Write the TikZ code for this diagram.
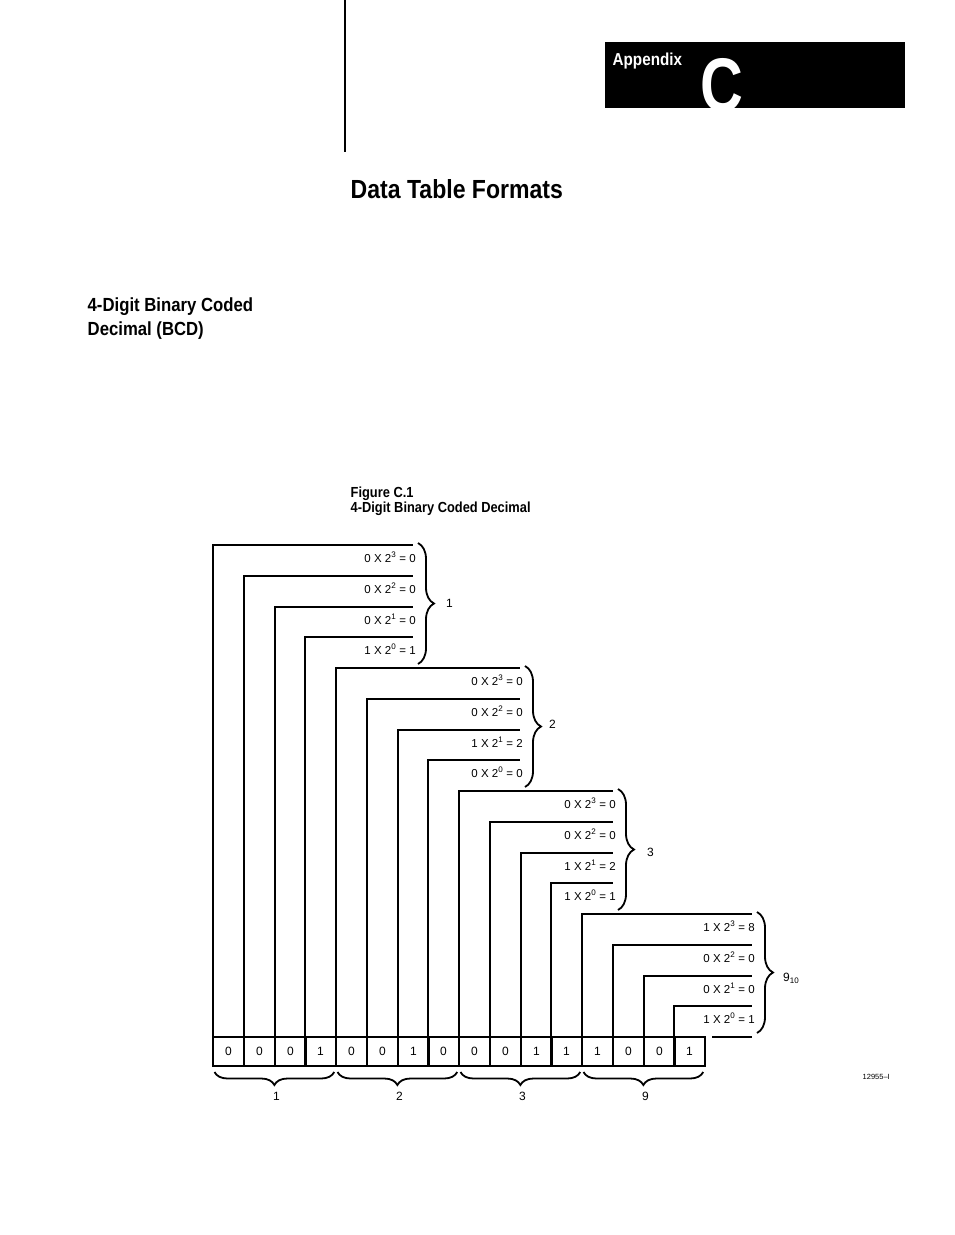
\documentclass[tikz,border=0pt]{standalone}
\usepackage{fontspec}
\setmainfont{Liberation Sans}
\newfontfamily\condfont{Liberation Sans}[FakeStretch=0.88]
\newfontfamily\letterfont{Liberation Sans}[FakeStretch=0.78]
\usetikzlibrary{positioning,calc,decorations.pathreplacing}

\begin{document}
\begin{tikzpicture}[x=1pt, y=-1pt,
  cell/.style={draw, line width=1.9pt, outer sep=0pt, inner sep=0pt,
    minimum width=30.75pt, minimum height=29pt, font=\fontsize{12}{14}\selectfont},
  bitline/.style={line width=1.6pt},
  term/.style={anchor=base east, inner sep=0pt, font=\fontsize{11.5}{13}\selectfont},
  digit/.style={inner sep=0pt, font=\fontsize{12}{14}\selectfont},
  rbrace/.style={decorate, decoration={brace, amplitude=16pt}, line width=1.8pt},
  dbrace/.style={decorate, decoration={brace, mirror, amplitude=13pt}, line width=1.8pt},
  head/.style={inner sep=0pt, anchor=base west}
]
\useasboundingbox (0,0) rectangle (954,1235);

% page head
\draw[line width=1.2pt] (345,0) -- (345,152);
\fill (605,42) rectangle (905,108);
\node[head, white, font=\condfont\bfseries\fontsize{17.3}{20}\selectfont] (app) at (612.5,65.5) {Appendix};
\begin{scope}
  \clip (605,42) rectangle (905,108);
  \node[head, white, font=\letterfont\bfseries\fontsize{76}{80}\selectfont] (letter) at (700,111) {C};
\end{scope}
\node[head, font=\condfont\bfseries\fontsize{26.2}{30}\selectfont] (title) at (350.5,198.5) {Data Table Formats};
\node[head, font=\condfont\bfseries\fontsize{19}{23}\selectfont] (sec1) at (87.5,311.5) {4-Digit Binary Coded};
\node[head, font=\condfont\bfseries\fontsize{19}{23}\selectfont] (sec2) at (87.5,335) {Decimal (BCD)};
\node[head, font=\condfont\bfseries\fontsize{14.6}{16}\selectfont] (fig1) at (350.5,497) {Figure C.1};
\node[head, font=\condfont\bfseries\fontsize{14.6}{16}\selectfont] (fig2) at (350.5,512.5) {4-Digit Binary Coded Decimal};

% the 16 bits
\foreach \bv [count=\i] in {0,0,0,1,0,0,1,0,0,0,1,1,1,0,0,1}
  \node[cell] (c\i) at ({round(213+(\i-1)*30.75)+15.375},1051.5) {\bv};

% line ends, one column per digit
\foreach \x [count=\g] in {413,520,613,752}
  \foreach \k in {1,...,4} {
    \pgfmathtruncatemacro\i{4*(\g-1)+\k}
    \coordinate (e\i) at (\x,{round(545+(\i-1)*30.75)});
  }
\coordinate (e17a) at (712,1037);
\coordinate (e17b) at (752,1037);

\foreach \i in {1,...,16}
  \draw[bitline] (c\i.north west) |- (e\i);
\draw[bitline] (e17a) -- (e17b);

% weights
\foreach \bv/\pw/\tv [count=\i] in {0/3/0, 0/2/0, 0/1/0, 1/0/1, 0/3/0, 0/2/0, 1/1/2, 0/0/0,
    0/3/0, 0/2/0, 1/1/2, 1/0/1, 1/3/8, 0/2/0, 0/1/0, 1/0/1}
  \node[term] (t\i) at ($(e\i)+(3,17)$) {\bv\ X 2\textsuperscript{\pw}\ =\ \tv};

% decimal digits
\draw[rbrace] (418,543) -- (418,664);
\draw[rbrace] (525,666) -- (525,787);
\draw[rbrace] (618,789) -- (618,910);
\draw[rbrace] (757,912) -- (757,1033);
\node[digit, anchor=base west] (d1) at (446,607.5) {1};
\node[digit, anchor=base west] (d2) at (549,728.5) {2};
\node[digit, anchor=base west] (d3) at (647,856.5) {3};
\node[digit, anchor=base west] (d4) at (783,981.5) {9\textsubscript{10}};

\draw[dbrace] ($(c1.south west)+(1.5,6)$) -- ($(c4.south east)+(-1.5,6)$);
\draw[dbrace] ($(c5.south west)+(1.5,6)$) -- ($(c8.south east)+(-1.5,6)$);
\draw[dbrace] ($(c9.south west)+(1.5,6)$) -- ($(c12.south east)+(-1.5,6)$);
\draw[dbrace] ($(c13.south west)+(1.5,6)$) -- ($(c16.south east)+(-1.5,6)$);
\node[digit, anchor=base] (s1) at ($(c1.south west)!0.5!(c4.south east)+(2,34)$) {1};
\node[digit, anchor=base] (s2) at ($(c5.south west)!0.5!(c8.south east)+(2,34)$) {2};
\node[digit, anchor=base] (s3) at ($(c9.south west)!0.5!(c12.south east)+(2,34)$) {3};
\node[digit, anchor=base] (s4) at ($(c13.south west)!0.5!(c16.south east)+(2,34)$) {9};

\node[inner sep=0pt, anchor=base east, font=\fontsize{7.5}{8}\selectfont] (figid) at (890,1079) {12955--I};
\end{tikzpicture}
\end{document}
